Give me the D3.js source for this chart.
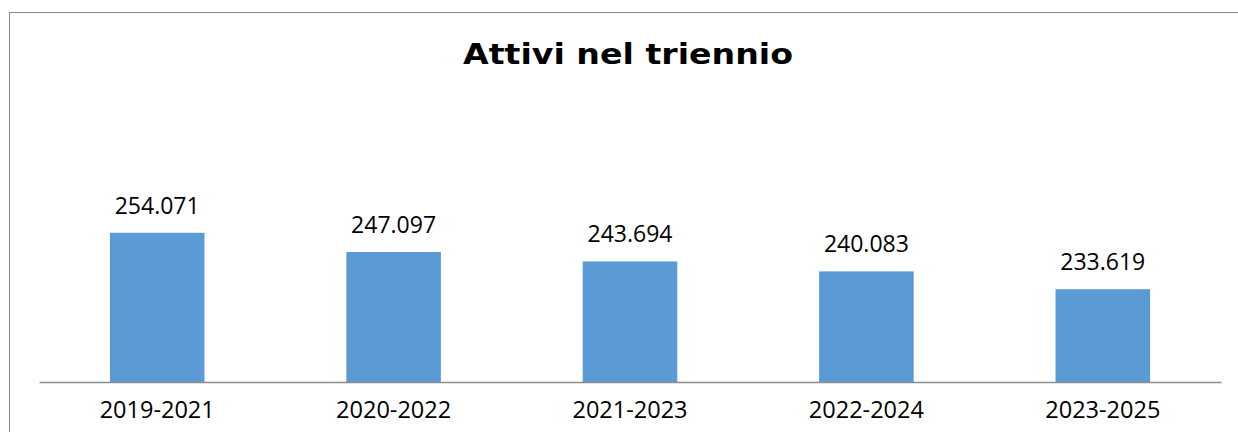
<!DOCTYPE html>
<html>
<head>
<meta charset="utf-8">
<script src="https://cdn.jsdelivr.net/npm/d3@7"></script>
<style>
  html, body { margin: 0; padding: 0; background: #fff; }
  svg { display: block; }
</style>
</head>
<body>
<div id="chart"></div>
<script>
// Data
const categories = ['2019-2021', '2020-2022', '2021-2023', '2022-2024', '2023-2025'];
const values = [254071, 247097, 243694, 240083, 233619];
const labels = ['254.071', '247.097', '243.694', '240.083', '233.619'];
const title = 'Attivi nel triennio';

const W = 1238, H = 432;
const plot = { left: 39, right: 1221, top: 106, bottom: 382 };

const svg = d3.select('#chart').append('svg')
  .attr('width', W)
  .attr('height', H);

// outer chart frame (right and bottom edges fall outside the crop)
svg.append('rect')
  .attr('x', 9.5).attr('y', 12.5)
  .attr('width', W + 20).attr('height', H + 20)
  .attr('fill', '#fff')
  .attr('stroke', '#8c8c8c')
  .attr('stroke-width', 1);

svg.append('text')
  .attr('x', 628).attr('y', 64)
  .attr('text-anchor', 'middle')
  .attr('textLength', 330)
  .attr('lengthAdjust', 'spacingAndGlyphs')
  .style('font-family', 'DejaVu Sans, Verdana, sans-serif')
  .style('font-weight', 'bold')
  .style('font-size', '29px')
  .attr('fill', '#000')
  .text(title);

const x = d3.scaleBand()
  .domain(categories)
  .range([plot.left, plot.right])
  .paddingInner(0.6)
  .paddingOuter(0.3);

const y = d3.scaleLinear()
  .domain([200000, 300000])
  .range([plot.bottom, plot.top]);

svg.selectAll('rect.bar')
  .data(values)
  .enter()
  .append('rect')
  .attr('class', 'bar')
  .attr('x', (d, i) => x(categories[i]))
  .attr('y', d => y(d))
  .attr('width', x.bandwidth())
  .attr('height', d => y.range()[0] - y(d))
  .attr('fill', '#5b9bd5');

// value labels
svg.selectAll('text.val')
  .data(values)
  .enter()
  .append('text')
  .attr('class', 'val')
  .attr('x', (d, i) => x(categories[i]) + x.bandwidth() / 2)
  .attr('y', d => y(d) - 19)
  .attr('text-anchor', 'middle')
  .style('font-family', 'Open Sans, sans-serif')
  .style('font-size', '23px')
  .attr('fill', '#000')
  .text((d, i) => labels[i]);

// category axis
const xAxis = svg.append('g')
  .attr('transform', 'translate(0,' + plot.bottom + ')')
  .call(d3.axisBottom(x).tickSize(0).tickPadding(0));
xAxis.select('.domain').attr('stroke', '#8c8c8c').attr('stroke-width', 1.5);
xAxis.selectAll('text')
  .attr('dy', 0)
  .attr('y', 36)
  .style('font-family', 'Open Sans, sans-serif')
  .style('font-size', '23.5px')
  .attr('fill', '#000');
</script>
</body>
</html>
